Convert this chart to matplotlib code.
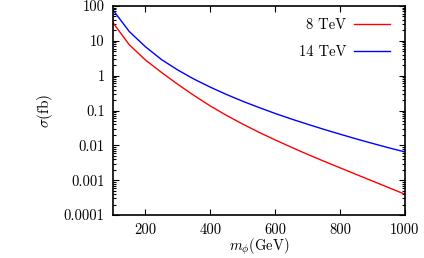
import numpy as np
import matplotlib
matplotlib.use('Agg')
import matplotlib.pyplot as plt
from matplotlib.ticker import LogLocator, FixedLocator, NullFormatter

plt.rcParams['font.family'] = 'cmr10'
plt.rcParams['mathtext.fontset'] = 'cm'
plt.rcParams['axes.formatter.use_mathtext'] = True

# masa del escalar (GeV) y seccion eficaz (fb)
m_phi = [100, 150, 200, 250, 300, 350, 400, 450, 500, 550,
         600, 650, 700, 750, 800, 850, 900, 950, 1000]
sigma_8tev = [33.1, 7.76, 2.82, 1.23, 0.562, 0.269, 0.135, 0.0724, 0.0407, 0.0237,
              0.0143, 0.00881, 0.0055, 0.00351, 0.00226, 0.00146, 0.000944, 0.00061, 0.000394]
sigma_14tev = [76.7, 18.6, 6.76, 2.88, 1.45, 0.794, 0.468, 0.288, 0.184, 0.122,
               0.0822, 0.0569, 0.0403, 0.0288, 0.0209, 0.0153, 0.01135, 0.00851, 0.00646]

xticks = [200, 400, 600, 800, 1000]
yticks = [1e-4, 1e-3, 1e-2, 1e-1, 1, 10, 100]
ytick_labels = ['0.0001', '0.001', '0.01', '0.1', '1', '10', '100']

fig = plt.figure(figsize=(4.24, 2.58), dpi=100)
ax = fig.add_axes([0.2665, 0.1667, 0.955 - 0.2665, 0.9767 - 0.1667])

ax.plot(m_phi, sigma_8tev, color='#ff0000', lw=1.0, label='8 TeV')
ax.plot(m_phi, sigma_14tev, color='#0000ff', lw=1.0, label='14 TeV')

ax.set_yscale('log')
ax.set_xlim(100, 1000)
ax.set_ylim(1e-4, 100)

ax.xaxis.set_major_locator(FixedLocator(xticks))
ax.set_xticklabels([str(v) for v in xticks])
ax.yaxis.set_major_locator(FixedLocator(yticks))
ax.set_yticklabels(ytick_labels)
ax.yaxis.set_minor_locator(LogLocator(base=10, subs=np.arange(2, 10)))
ax.yaxis.set_minor_formatter(NullFormatter())

ax.tick_params(which='both', direction='in', top=True, right=True,
               labelsize=10.5, width=0.8)
ax.tick_params(which='major', length=4)
ax.tick_params(axis='x', which='major', pad=6)
ax.tick_params(axis='y', which='major', pad=6)
ax.tick_params(which='minor', length=2)
for s in ax.spines.values():
    s.set_linewidth(1.2)

ax.set_xlabel(r'$m_\phi$(GeV)', fontsize=10.5, labelpad=0)
ax.set_ylabel(r'$\sigma$(fb)', fontsize=11, labelpad=6)

leg = ax.legend(loc='upper right', frameon=False, fontsize=10.5,
                markerfirst=False, handlelength=2.5, handletextpad=0.5,
                labelspacing=0.9, borderaxespad=0.0,
                bbox_to_anchor=(0.97, 0.97))
for t in leg.get_texts():
    t.set_ha('right')

fig.savefig('out.png', dpi=100)
